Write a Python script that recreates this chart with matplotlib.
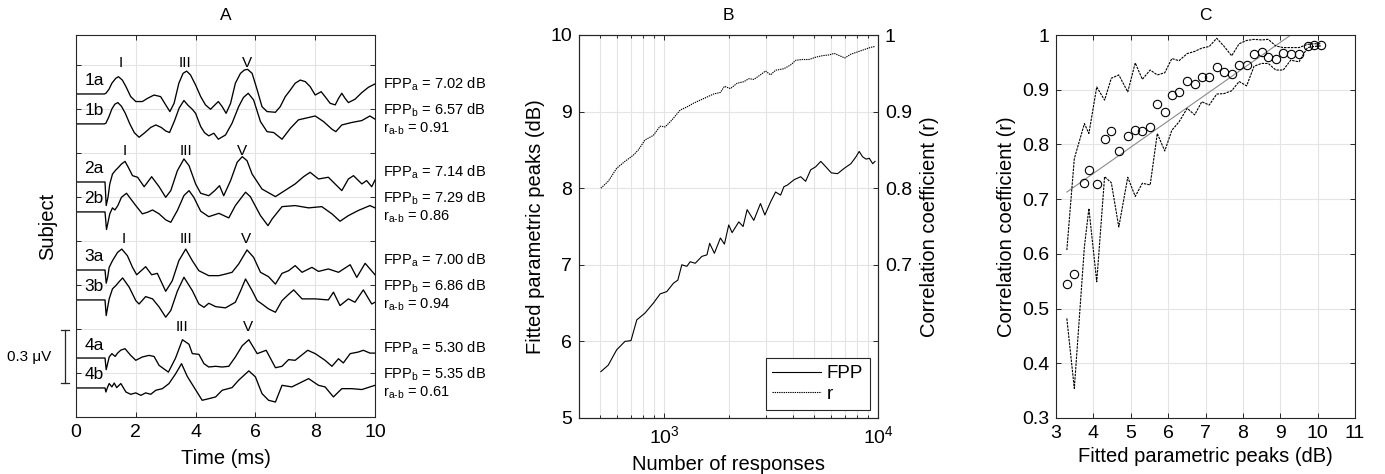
import numpy as np
import matplotlib
matplotlib.use('Agg')
import matplotlib.pyplot as plt
from matplotlib.ticker import LogLocator, NullFormatter

plt.rcParams['font.family'] = ['Liberation Sans', 'DejaVu Sans']
plt.rcParams['mathtext.fontset'] = 'custom'
plt.rcParams['mathtext.rm'] = 'Liberation Sans'
plt.rcParams['mathtext.it'] = 'Liberation Sans:italic'
plt.rcParams['mathtext.default'] = 'regular'

# ---------------- DATA ----------------
# Panel A: averaged ABR waveforms (time in ms, amplitude in uV)
trace_1a = [(0, 0), (0.95, 0), (1.0, 0.004), (1.1, 0.026), (1.2, 0.061), (1.33, 0.089), (1.42, 0.098), (1.55, 0.079),
            (1.67, 0.042), (1.83, -0.015), (2.0, -0.043), (2.22, -0.043), (2.39, -0.025), (2.61, -0.006), (2.83, -0.015),
            (3.0, -0.062), (3.14, -0.100), (3.28, -0.053), (3.44, 0.061), (3.58, 0.117), (3.7, 0.130), (3.83, 0.108),
            (4.0, 0.051), (4.17, -0.015), (4.33, -0.062), (4.5, -0.087), (4.61, -0.068), (4.76, -0.043), (4.89, -0.072),
            (5.02, -0.110), (5.17, -0.053), (5.33, 0.061), (5.5, 0.117), (5.63, 0.136), (5.74, 0.140), (5.89, 0.117),
            (6.06, 0.023), (6.22, -0.072), (6.39, -0.100), (6.67, -0.104), (6.83, -0.072), (7.0, -0.015), (7.17, 0.023),
            (7.33, 0.061), (7.5, 0.079), (7.67, 0.070), (7.83, 0.042), (8.0, -0.006), (8.2, 0.013), (8.33, -0.015),
            (8.5, -0.053), (8.67, -0.062), (8.78, -0.025), (8.89, 0.004), (9.0, -0.025), (9.11, -0.049), (9.33, -0.030),
            (9.56, 0.008), (9.78, 0.038), (10.0, 0.057)]
trace_1b = [(0, 0), (0.95, 0), (1.0, 0.004), (1.1, 0.04), (1.2, 0.085), (1.3, 0.112), (1.4, 0.121), (1.52, 0.10),
            (1.65, 0.06), (1.8, 0.0), (1.95, -0.05), (2.11, -0.076), (2.3, -0.05), (2.5, -0.02), (2.67, -0.006),
            (2.85, -0.02), (3.0, -0.04), (3.13, -0.049), (3.3, 0.02), (3.45, 0.09), (3.61, 0.133), (3.75, 0.105),
            (3.89, 0.083), (4.0, 0.06), (4.17, -0.015), (4.3, -0.05), (4.44, -0.068), (4.61, -0.053), (4.76, -0.087),
            (5.0, -0.063), (5.22, 0.004), (5.44, 0.098), (5.6, 0.15), (5.76, 0.174), (5.94, 0.136), (6.17, 0.013),
            (6.39, -0.044), (6.61, -0.049), (6.89, -0.087), (7.17, -0.025), (7.44, 0.023), (7.67, 0.032), (8.0, 0.045),
            (8.28, 0.013), (8.56, -0.030), (8.69, -0.044), (8.89, -0.006), (9.22, 0.008), (9.56, 0.019), (9.83, 0.045),
            (10.0, 0.027)]
trace_2a = [(0, 0), (0.97, 0), (1.01, -0.134), (1.07, -0.087), (1.13, -0.011), (1.22, 0.045), (1.33, 0.068),
            (1.42, 0.083), (1.52, 0.102), (1.64, 0.117), (1.75, 0.083), (1.89, 0.036), (2.06, 0.027), (2.28, -0.027),
            (2.53, 0.030), (2.78, -0.027), (3.0, -0.087), (3.17, -0.049), (3.39, 0.064), (3.61, 0.131), (3.78, 0.093),
            (4.0, -0.011), (4.17, -0.064), (4.44, -0.078), (4.64, -0.049), (4.8, -0.021), (4.94, -0.078), (5.17, 0.008),
            (5.39, 0.112), (5.56, 0.144), (5.72, 0.121), (5.89, 0.045), (6.22, -0.040), (6.67, -0.083), (6.89, -0.059),
            (7.33, -0.011), (7.61, 0.030), (7.83, 0.055), (8.11, 0.017), (8.44, 0.027), (8.89, -0.049), (9.11, 0.017),
            (9.28, 0.036), (9.56, -0.011), (9.72, 0.008), (9.89, -0.027), (10.0, 0.011)]
trace_2b = [(0, 0), (0.97, 0), (1.02, -0.10), (1.07, -0.06), (1.13, -0.011), (1.22, 0.023), (1.3, 0.011), (1.4, 0.036),
            (1.52, 0.083), (1.69, 0.106), (1.83, 0.074), (2.0, 0.036), (2.22, -0.011), (2.39, -0.002), (2.56, 0.011),
            (2.78, -0.011), (3.0, -0.045), (3.17, -0.059), (3.39, 0.008), (3.61, 0.093), (3.78, 0.121), (3.94, 0.083),
            (4.17, 0.004), (4.44, -0.027), (4.78, -0.008), (5.11, -0.034), (5.33, 0.036), (5.67, 0.112), (5.83, 0.087),
            (6.17, -0.021), (6.42, -0.078), (6.56, -0.040), (6.89, 0.030), (7.33, 0.036), (7.78, 0.023), (8.22, 0.030),
            (8.56, -0.011), (8.83, -0.053), (9.11, -0.021), (9.44, 0.008), (9.83, 0.036), (10.0, 0.023)]
trace_3a = [(0, 0), (0.97, 0), (1.01, -0.075), (1.06, -0.04), (1.11, 0.015), (1.22, 0.053), (1.39, 0.100), (1.53, 0.119),
            (1.72, 0.081), (1.89, 0.015), (2.03, -0.027), (2.33, 0.019), (2.53, -0.027), (2.72, -0.019), (3.0, -0.121),
            (3.22, -0.061), (3.44, 0.053), (3.67, 0.119), (3.89, 0.053), (4.11, -0.004), (4.44, -0.032), (4.78, -0.032),
            (5.0, -0.023), (5.22, -0.013), (5.44, 0.034), (5.72, 0.114), (5.94, 0.072), (6.17, -0.013), (6.44, -0.038),
            (6.67, -0.080), (6.89, -0.019), (7.11, -0.004), (7.33, 0.025), (7.56, -0.013), (7.89, 0.015), (8.11, -0.008),
            (8.44, 0.006), (8.78, -0.013), (9.17, 0.030), (9.39, -0.042), (9.67, 0.038), (10.0, -0.027)]
trace_3b = [(0, 0), (0.97, 0), (1.01, -0.089), (1.06, -0.04), (1.11, 0.006), (1.22, 0.063), (1.33, 0.081), (1.45, 0.105),
            (1.56, 0.125), (1.78, 0.072), (2.0, -0.004), (2.11, -0.023), (2.33, 0.019), (2.56, 0.006), (2.78, -0.04),
            (3.0, -0.098), (3.17, -0.06), (3.39, 0.05), (3.61, 0.129), (3.89, 0.053), (4.11, -0.023), (4.28, -0.042),
            (4.44, -0.019), (4.67, -0.038), (5.0, -0.045), (5.33, -0.013), (5.5, 0.05), (5.67, 0.119), (5.89, 0.053),
            (6.06, -0.004), (6.22, -0.023), (6.44, -0.051), (6.67, -0.070), (6.89, -0.004), (7.1, 0.03), (7.28, 0.057),
            (7.56, 0.006), (8.0, 0.006), (8.44, 0.0), (8.61, 0.044), (8.83, -0.032), (9.11, 0.006), (9.33, -0.013),
            (9.61, 0.057), (9.89, -0.023), (10.0, -0.013)]
trace_4a = [(0, 0), (0.97, 0), (1.01, -0.066), (1.11, 0.006), (1.2, 0.025), (1.31, 0.009), (1.39, 0.028), (1.5, 0.045),
            (1.64, 0.053), (1.83, 0.015), (2.0, -0.013), (2.22, 0.006), (2.44, 0.015), (2.61, 0.009), (2.78, -0.042),
            (3.09, -0.080), (3.33, 0.0), (3.56, 0.104), (3.78, 0.078), (3.89, 0.025), (4.11, 0.021), (4.28, -0.032),
            (4.44, -0.051), (4.67, -0.047), (4.89, -0.051), (5.11, -0.047), (5.33, 0.006), (5.56, 0.07), (5.78, 0.104),
            (6.06, 0.025), (6.22, 0.035), (6.36, 0.044), (6.67, -0.055), (6.89, -0.047), (7.11, -0.009), (7.33, -0.013),
            (7.75, 0.044), (8.0, 0.025), (8.33, -0.013), (8.56, -0.047), (8.78, -0.004), (8.94, -0.028), (9.17, 0.025),
            (9.44, 0.034), (9.61, 0.044), (9.83, 0.028), (10.0, 0.028)]
trace_4b = [(0, 0), (0.97, 0), (1.0, -0.023), (1.06, 0.006), (1.11, 0.025), (1.2, 0.006), (1.28, 0.028), (1.36, 0.002),
            (1.5, 0.025), (1.67, -0.023), (1.83, -0.036), (2.0, -0.028), (2.17, -0.042), (2.33, -0.028), (2.5, -0.036),
            (2.67, -0.013), (2.89, -0.004), (3.11, 0.025), (3.33, 0.08), (3.53, 0.138), (3.72, 0.066), (3.94, 0.006),
            (4.22, -0.070), (4.44, -0.061), (4.67, -0.051), (4.89, -0.013), (5.22, 0.002), (5.44, 0.044), (5.78, 0.097),
            (6.0, 0.063), (6.22, -0.032), (6.44, -0.070), (6.67, -0.080), (6.89, 0.015), (7.22, 0.006), (7.78, 0.053),
            (8.11, 0.015), (8.33, 0.006), (8.61, -0.051), (8.89, -0.004), (9.22, -0.004), (9.56, -0.009), (10.0, 0.015)]

subjects = ['1', '2', '3', '4']
traces_a = [trace_1a, trace_2a, trace_3a, trace_4a]
traces_b = [trace_1b, trace_2b, trace_3b, trace_4b]
fpp_a = [7.02, 7.14, 7.00, 5.30]
fpp_b = [6.57, 7.29, 6.86, 5.35]
r_ab = [0.91, 0.86, 0.94, 0.61]
peak_names = [['I', 'III', 'V'], ['I', 'III', 'V'], ['I', 'III', 'V'], ['III', 'V']]
peak_latency = [[1.48, 3.65, 5.73], [1.64, 3.67, 5.56], [1.61, 3.67, 5.69], [3.53, 5.76]]
scale_uV = 0.3

# Panel B: FPP and r versus number of responses
fpp_curve = [(506, 5.605), (548, 5.69), (600, 5.89), (656, 6.0), (700, 6.01), (745, 6.28), (814, 6.37), (891, 6.50),
             (958, 6.62), (1029, 6.65), (1106, 6.76), (1159, 6.80), (1210, 7.0), (1277, 6.98), (1324, 7.04),
             (1398, 7.02), (1502, 7.11), (1586, 7.13), (1633, 7.28), (1718, 7.15), (1833, 7.35), (1914, 7.27),
             (2005, 7.52), (2079, 7.42), (2234, 7.56), (2340, 7.50), (2444, 7.72), (2626, 7.58), (2822, 7.80),
             (2958, 7.65), (3145, 7.82), (3320, 7.95), (3505, 7.91), (3633, 8.02), (3767, 8.04), (4048, 8.11),
             (4349, 8.15), (4588, 8.09), (4845, 8.24), (5115, 8.28), (5400, 8.35), (5700, 8.28), (6050, 8.20),
             (6471, 8.19), (6955, 8.26), (7470, 8.32), (7889, 8.41), (8166, 8.48), (8472, 8.41), (8790, 8.38),
             (9107, 8.39), (9446, 8.32), (9685, 8.35)]
r_curve = [(506, 0.800), (548, 0.809), (600, 0.826), (656, 0.835), (717, 0.843), (758, 0.850), (814, 0.863),
           (891, 0.869), (958, 0.881), (1011, 0.880), (1087, 0.889), (1189, 0.902), (1277, 0.906), (1374, 0.911),
           (1476, 0.915), (1586, 0.919), (1705, 0.923), (1833, 0.925), (1914, 0.933), (2041, 0.930), (2194, 0.937),
           (2358, 0.939), (2492, 0.943), (2626, 0.942), (2822, 0.948), (2979, 0.953), (3145, 0.948), (3320, 0.954),
           (3633, 0.956), (3908, 0.961), (4127, 0.967), (4428, 0.968), (4755, 0.968), (5115, 0.971), (5493, 0.973),
           (5905, 0.974), (6237, 0.976), (6998, 0.970), (7470, 0.975), (8035, 0.978), (8630, 0.981), (9268, 0.984),
           (9685, 0.985)]

# Panel C: correlation coefficient vs FPP
c_fpp = [3.29, 3.49, 3.76, 3.88, 4.09, 4.30, 4.48, 4.68, 4.92, 5.12, 5.31, 5.52, 5.71, 5.91, 6.10, 6.29, 6.51,
         6.71, 6.90, 7.10, 7.30, 7.50, 7.70, 7.90, 8.10, 8.30, 8.50, 8.68, 8.88, 9.08, 9.28, 9.50, 9.73, 9.89, 10.09]
c_r_mean = [0.544, 0.564, 0.729, 0.753, 0.727, 0.810, 0.825, 0.788, 0.816, 0.826, 0.824, 0.831, 0.874, 0.860,
            0.890, 0.896, 0.916, 0.910, 0.924, 0.924, 0.941, 0.932, 0.928, 0.946, 0.946, 0.965, 0.969, 0.959,
            0.957, 0.968, 0.965, 0.965, 0.980, 0.982, 0.982]
c_r_upper = [0.607, 0.774, 0.838, 0.820, 0.905, 0.881, 0.921, 0.927, 0.896, 0.949, 0.919, 0.936, 0.927, 0.931,
             0.957, 0.953, 0.966, 0.970, 0.976, 0.979, 0.994, 0.979, 0.962, 0.984, 0.990, 0.992, 0.991, 0.992,
             0.980, 0.977, 0.977, 0.977, 0.983, 0.984, 0.984]
c_r_lower = [0.482, 0.354, 0.613, 0.683, 0.549, 0.741, 0.730, 0.649, 0.740, 0.705, 0.729, 0.726, 0.820, 0.788,
             0.826, 0.841, 0.866, 0.854, 0.878, 0.872, 0.892, 0.893, 0.898, 0.915, 0.907, 0.943, 0.948, 0.948,
             0.936, 0.936, 0.954, 0.951, 0.977, 0.979, 0.980]
fit_slope = 0.0479
fit_intercept = 0.5554

# ---------------- STYLE / LAYOUT ----------------
W, H = 1385, 474
EDGE = '#262626'
GRID = '#e4e4e4'
FS = 14
LFS = 14.5

fig = plt.figure(figsize=(W / 100, H / 100), dpi=100)
axA = fig.add_axes([76 / W, 57 / H, 299 / W, 382 / H])
axB = fig.add_axes([579 / W, 56 / H, 299 / W, 383 / H])
axC = fig.add_axes([1056 / W, 56 / H, 299 / W, 383 / H])


def style(ax, right=True):
    ax.tick_params(which='both', direction='in', top=True, right=right, length=3.5, width=0.7,
                   color=EDGE, labelsize=FS, labelcolor='black', pad=5)
    ax.tick_params(which='minor', length=2)
    for s in ax.spines.values():
        s.set_color(EDGE)
        s.set_linewidth(0.8)
    ax.set_axisbelow(True)


# ---- Panel A ----
style(axA)
PAIR_STEP = 0.5
AB_SHIFT = 0.085
for i, s in enumerate(subjects):
    off = PAIR_STEP * (len(subjects) - 1 - i)
    for tr, sh, tag in ((traces_a[i], AB_SHIFT, 'a'), (traces_b[i], -AB_SHIFT, 'b')):
        t = np.array([p[0] for p in tr])
        v = np.array([p[1] for p in tr])
        axA.plot(t, v + off + sh, color='black', lw=0.95, solid_joinstyle='round')
        axA.text(0.6, off + sh + 0.074, s + tag, ha='center', va='center', fontsize=12.5)
    for name, lat in zip(peak_names[i], peak_latency[i]):
        axA.text(lat, off + 0.262, name, ha='center', va='center', fontsize=11)
    axA.text(10.27, off + 0.115, 'FPP$_{a}$ = %.2f dB' % fpp_a[i], fontsize=10.5, va='baseline', clip_on=False)
    axA.text(10.27, off - 0.030, 'FPP$_{b}$ = %.2f dB' % fpp_b[i], fontsize=10.5, va='baseline', clip_on=False)
    axA.text(10.27, off - 0.133, r'r$_{\text{a-b}}$ = %.2f' % r_ab[i], fontsize=10.5, va='baseline', clip_on=False)

# scale bar
sb_x, sb_bottom, cap = -0.37, -0.057, 0.13
axA.plot([sb_x, sb_x], [sb_bottom, sb_bottom + scale_uV], color=EDGE, lw=0.9, clip_on=False)
for yy in (sb_bottom, sb_bottom + scale_uV):
    axA.plot([sb_x - cap, sb_x + cap], [yy, yy], color=EDGE, lw=0.9, clip_on=False)
axA.text(-1.57, sb_bottom + scale_uV / 2, '%.1f \u03bcV' % scale_uV, ha='center', va='center', fontsize=11)

axA.set_xlim(0, 10)
axA.set_ylim(-0.25, 1.92)
axA.set_xticks(np.arange(0, 11, 2))
axA.set_yticks(np.arange(0, 1.76, 0.25))
axA.set_yticklabels([])
axA.grid(True, color=GRID, lw=0.8)
axA.set_xlabel('Time (ms)', fontsize=LFS, labelpad=6)
axA.set_ylabel('Subject', fontsize=LFS)
axA.yaxis.set_label_coords(-0.063, 0.5)
axA.set_title('A', fontsize=12.5, pad=11)

# ---- Panel B ----
style(axB, right=False)
axB.set_xscale('log')
n1 = [p[0] for p in fpp_curve]
f1 = [p[1] for p in fpp_curve]
lnF, = axB.plot(n1, f1, color='black', lw=0.8)
axB.set_xlim(400, 10000)
axB.set_ylim(5, 10)
axB.set_yticks(np.arange(5, 11, 1))
axB.xaxis.set_major_locator(LogLocator(base=10))
axB.xaxis.set_minor_locator(LogLocator(base=10, subs=np.arange(2, 10)))
axB.xaxis.set_minor_formatter(NullFormatter())
axB.grid(True, which='both', axis='x', color=GRID, lw=0.8)
axB.grid(True, which='major', axis='y', color=GRID, lw=0.8)
axB.set_xlabel('Number of responses', fontsize=LFS, labelpad=6)
axB.set_ylabel('Fitted parametric peaks (dB)', fontsize=LFS)
axB.set_title('B', fontsize=12.5, pad=11)

axB2 = axB.twinx()
axB2.tick_params(which='both', direction='in', left=False, right=True, length=3.5, width=0.7,
                 color=EDGE, labelsize=FS, pad=5)
for s in axB2.spines.values():
    s.set_color(EDGE)
    s.set_linewidth(0.8)
n2 = [p[0] for p in r_curve]
r2 = [p[1] for p in r_curve]
lnR, = axB2.plot(n2, r2, color='black', lw=0.8, ls=(0, (1.2, 0.8)))
axB2.set_ylim(0.5, 1.0)
axB2.set_yticks([0.6, 0.7, 0.8, 0.9, 1.0])
axB2.set_yticklabels(['', '0.7', '0.8', '0.9', '1'])
axB2.set_ylabel('Correlation coefficient (r)', fontsize=LFS, labelpad=6)
leg = axB2.legend([lnF, lnR], ['FPP', 'r'], loc='lower right', fontsize=13.5, frameon=True, fancybox=False,
                  framealpha=1, edgecolor=EDGE, handlelength=2.6, labelspacing=0.2, borderaxespad=0.45,
                  handletextpad=0.3, borderpad=0.35)
leg.get_frame().set_linewidth(0.8)

# ---- Panel C ----
style(axC)
xfit = np.array([min(c_fpp), max(c_fpp)])
axC.plot(xfit, fit_slope * xfit + fit_intercept, color='#8a8a8a', lw=0.8)
axC.plot(c_fpp, c_r_upper, color='black', lw=0.8, ls=(0, (2.2, 0.9)))
axC.plot(c_fpp, c_r_lower, color='black', lw=0.8, ls=(0, (2.2, 0.9)))
axC.plot(c_fpp, c_r_mean, 'o', mfc='none', mec='black', ms=6, mew=0.8)
axC.set_xlim(3, 11)
axC.set_ylim(0.3, 1.0)
axC.set_xticks(np.arange(3, 12, 1))
axC.set_yticks(np.arange(0.3, 1.01, 0.1))
axC.set_yticklabels(['0.3', '0.4', '0.5', '0.6', '0.7', '0.8', '0.9', '1'])
axC.grid(True, color=GRID, lw=0.8)
axC.set_xlabel('Fitted parametric peaks (dB)', fontsize=LFS, labelpad=4)
axC.set_ylabel('Correlation coefficient (r)', fontsize=LFS)
axC.set_title('C', fontsize=12.5, pad=11)

fig.savefig('out.png', dpi=100)
